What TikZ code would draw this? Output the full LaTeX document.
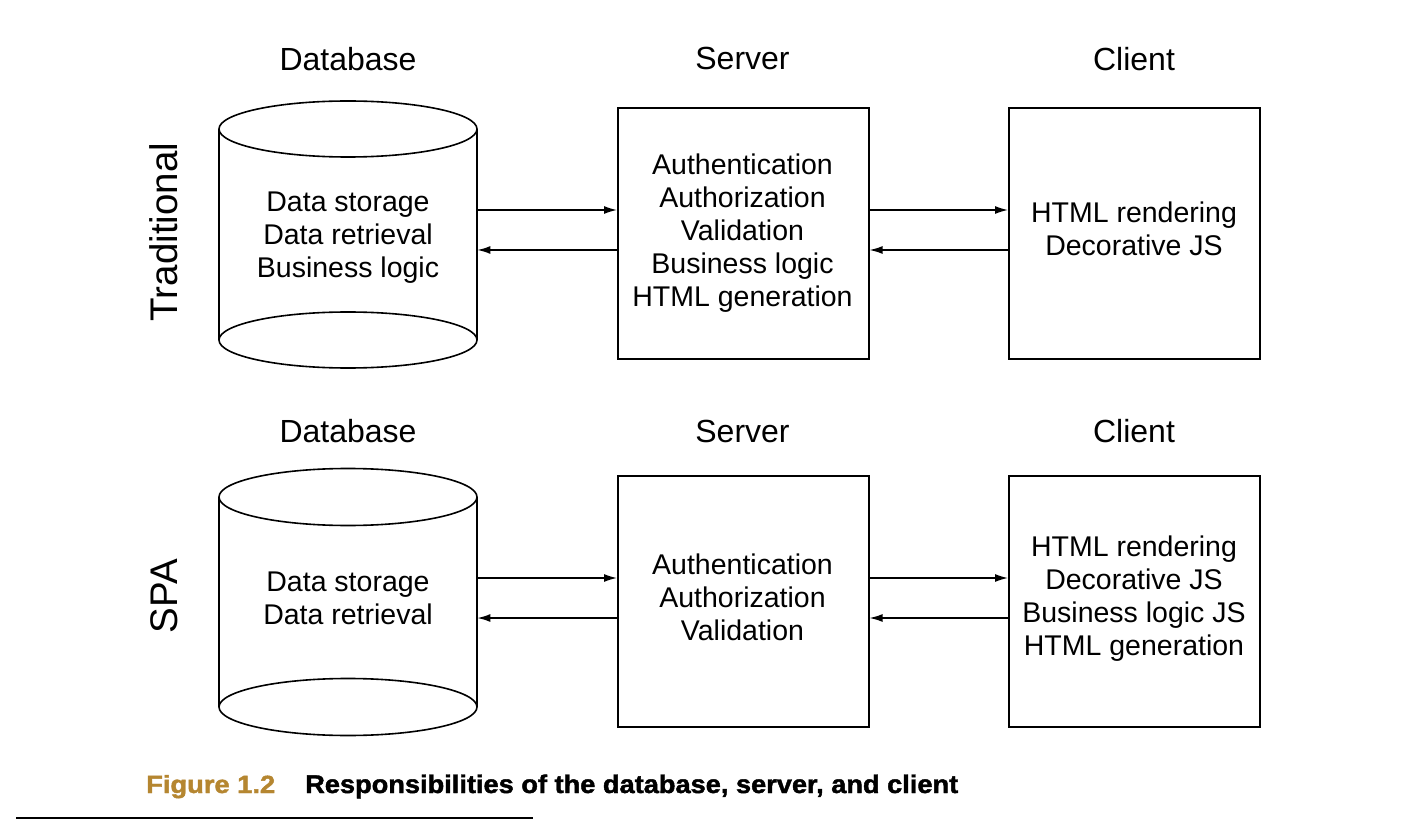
\documentclass[tikz,border=0pt]{standalone}
\usepackage{fontspec}
\usepackage{graphicx}
\setmainfont{Liberation Sans}
\newfontfamily\capfont[FakeBold=1.6]{Liberation Sans Bold}
\usetikzlibrary{arrows.meta}
\definecolor{capgold}{RGB}{181,134,48}
\begin{document}
\begin{tikzpicture}[x=1pt,y=-1pt,
  box/.style={draw, line width=1.6pt, minimum width=251pt, minimum height=251pt, inner sep=0pt, anchor=north west},
  dbarea/.style={inner sep=0pt, minimum width=258pt, minimum height=268pt, anchor=north west},
  cyl/.style={line width=1.6pt},
  arr/.style={line width=1.4pt, -{Latex[length=13pt,width=8pt]}},
  body/.style={inner sep=0pt, anchor=north, align=center, font=\fontsize{28.5pt}{33pt}\selectfont},
  head/.style={inner sep=0pt, anchor=north, font=\fontsize{32pt}{38pt}\selectfont},
  rowlbl/.style={inner sep=0pt, rotate=90, font=\fontsize{38.5pt}{44pt}\selectfont},
  capt/.style={inner sep=0pt, anchor=base west}]
\useasboundingbox (0,0) rectangle (1422,834);
\fill[white] (0,0) rectangle (1422,834);

% ---------- Traditional row ----------
\node[rowlbl] (trad) at (164,232) {Traditional};
\node[head] (hdb1) at (348,47) {Database};
\node[head] (hsrv1) at (742.5,47) {Server};
\node[head] (hcli1) at (1134,47) {Client};

\node[dbarea] (db1) at (219,101) {};
\draw[cyl] (348,129) ellipse [x radius=129pt, y radius=28pt];
\draw[cyl] (219,129) -- (219,340);
\draw[cyl] (477,129) -- (477,340);
\draw[cyl] (348,340) ellipse [x radius=129pt, y radius=28pt];
\node[body] (db1t) at (348,191.5) {Data storage\\Data retrieval\\Business logic};

\node[box] (srv1) at (617,107) {};
\node[body] (srv1t) at (742.5,154) {Authentication\\Authorization\\Validation\\Business logic\\HTML generation};

\node[box] (cli1) at (1008,107) {};
\node[body] (cli1t) at (1134,202) {HTML rendering\\Decorative JS};

\draw[arr] (db1.east |- 0,210) -- (srv1.west |- 0,210);
\draw[arr] (srv1.west |- 0,250) -- (db1.east |- 0,250);
\draw[arr] (srv1.east |- 0,210) -- (cli1.west |- 0,210);
\draw[arr] (cli1.west |- 0,250) -- (srv1.east |- 0,250);

% ---------- SPA row ----------
\node[rowlbl] (spa) at (164,596) {SPA};
\node[head] (hdb2) at (348,419.5) {Database};
\node[head] (hsrv2) at (742.5,419.5) {Server};
\node[head] (hcli2) at (1134,419.5) {Client};

\node[dbarea] (db2) at (219,469) {};
\draw[cyl] (348,497) ellipse [x radius=129pt, y radius=28.5pt];
\draw[cyl] (219,497) -- (219,707);
\draw[cyl] (477,497) -- (477,707);
\draw[cyl] (348,707) ellipse [x radius=129pt, y radius=28.5pt];
\node[body] (db2t) at (348,572) {Data storage\\Data retrieval};

\node[box] (srv2) at (617,475) {};
\node[body] (srv2t) at (742.5,554) {Authentication\\Authorization\\Validation};

\node[box] (cli2) at (1008,475) {};
\node[body] (cli2t) at (1134,536) {HTML rendering\\Decorative JS\\Business logic JS\\HTML generation};

\draw[arr] (db2.east |- 0,578) -- (srv2.west |- 0,578);
\draw[arr] (srv2.west |- 0,618) -- (db2.east |- 0,618);
\draw[arr] (srv2.east |- 0,578) -- (cli2.west |- 0,578);
\draw[arr] (cli2.west |- 0,618) -- (srv2.east |- 0,618);

% ---------- caption ----------
\node[capt, text=capgold] (figlbl) at (146,793) {\resizebox{129pt}{18pt}{\capfont Figure 1.2}};
\node[capt] (figcap) at (305,793) {\resizebox{653pt}{18.5pt}{\capfont Responsibilities of the database, server, and client}};
\coordinate (rulel) at (16,818);
\coordinate (ruler) at (533,818);
\draw[line width=1.3pt] (rulel) -- (ruler);
\end{tikzpicture}
\end{document}
